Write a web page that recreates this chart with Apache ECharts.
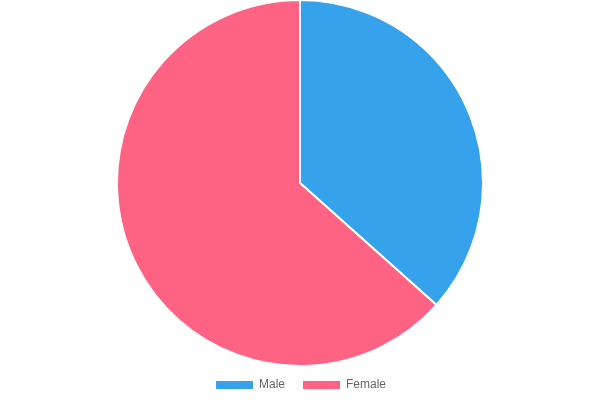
<!DOCTYPE html>
<html>
<head>
    <meta charset="utf-8">
    <title>Gender</title>
    <script src="https://cdn.jsdelivr.net/npm/echarts@6/dist/echarts.min.js"></script>
    <style>
        html, body { margin: 0; padding: 0; background: #fff; }
        #pie { width: 600px; height: 400px; }
    </style>
</head>
<body>
<div id="pie"></div>
<script type="text/javascript">
    // data
    var categories = ['Male', 'Female'];
    var values = [36.6, 63.4];
    var colors = ['#36A2EB', '#FF6384'];

    var seriesData = categories.map(function (name, i) {
        return { name: name, value: values[i], itemStyle: { color: colors[i] } };
    });

    var chart = echarts.init(document.getElementById('pie'));
    chart.setOption({
        animation: false,
        legend: {
            data: categories,
            bottom: 4,
            left: 'center',
            icon: 'rect',
            itemWidth: 39,
            itemHeight: 10,
            itemGap: 16,
            textStyle: {
                color: '#666',
                fontSize: 12,
                fontFamily: 'Liberation Sans, Arial, sans-serif'
            }
        },
        series: [{
            type: 'pie',
            center: [300, 183],
            radius: [0, 183],
            startAngle: 90,
            clockwise: true,
            label: { show: false },
            labelLine: { show: false },
            emphasis: { disabled: true },
            itemStyle: { borderColor: '#fff', borderWidth: 2 },
            data: seriesData
        }]
    });
</script>
</body>
</html>
